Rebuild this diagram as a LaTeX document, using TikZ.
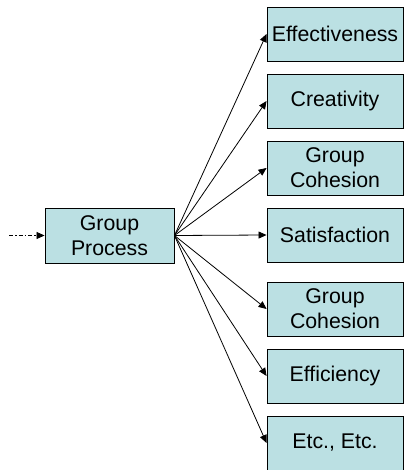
\documentclass[tikz,border=0pt]{standalone}
\usepackage{fontspec}
\setmainfont{Liberation Sans}
\usetikzlibrary{arrows.meta}
\definecolor{boxfill}{RGB}{187,224,227}
\tikzset{
  box/.style={draw=black, line width=0.9bp, fill=boxfill, minimum height=54bp, align=center, inner sep=0pt,
    font=\fontsize{21.3bp}{25bp}\selectfont},
  rbox/.style={box, minimum width=136bp},
  conn/.style={line width=0.8bp, -{Triangle[length=8bp,width=7bp]}},
}
\begin{document}
\begin{tikzpicture}[x=1bp,y=-1bp]
\useasboundingbox (0,0) rectangle (404,470);
\node[box, minimum width=129bp, minimum height=55bp] (gp) at (109.5,235.5) {Group\\Process};
\node[rbox] (r1) at (335,34) {Effectiveness};
\node[rbox] (r2) at (335,101) {Creativity};
\node[rbox] (r3) at (335,168) {Group\\Cohesion};
\node[rbox] (r4) at (335,235) {Satisfaction};
\node[rbox] (r5) at (335,309) {Group\\Cohesion};
\node[rbox] (r6) at (335,376) {Efficiency};
\node[rbox] (r7) at (335,443) {Etc., Etc.};
\coordinate (in) at (9,235.5);
\draw[conn, dash pattern=on 4bp off 2bp on 1.5bp off 2bp] (in) -- (gp.west);
\foreach \r in {r1,r2,r3,r4,r5,r6,r7}{
  \draw[conn] (gp.east) -- (\r.west);
}
\end{tikzpicture}
\end{document}
